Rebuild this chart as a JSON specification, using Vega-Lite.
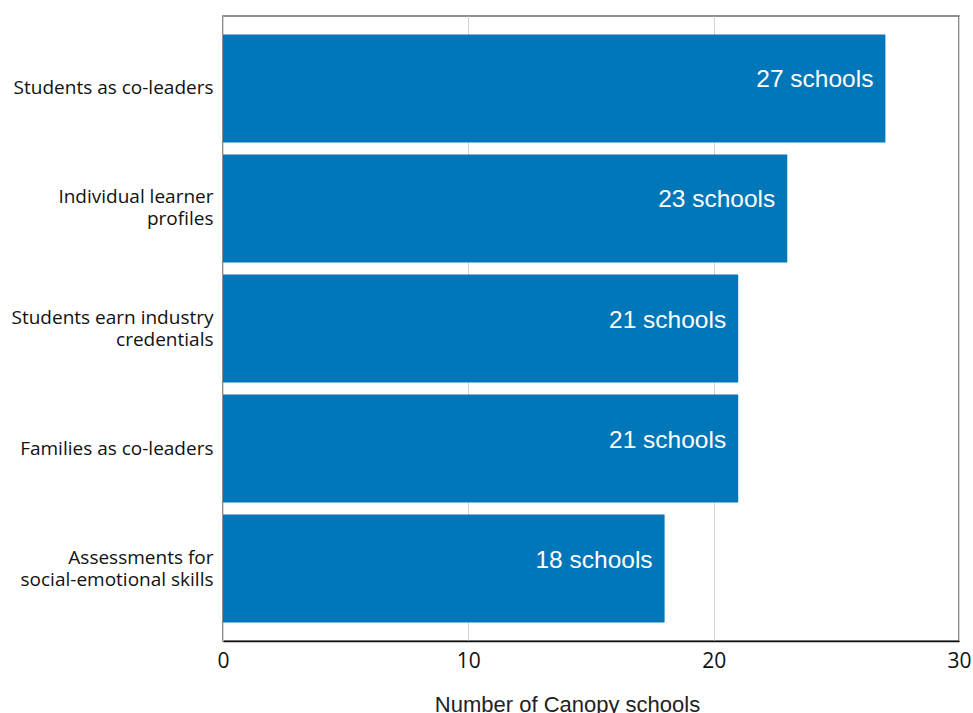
{
  "$schema": "https://vega.github.io/schema/vega-lite/v6.json",
  "width": 736,
  "height": 625,
  "autosize": {"type": "none"},
  "padding": {"left": 223, "top": 16, "right": 14, "bottom": 72},
  "background": "white",
  "config": {
    "view": {"stroke": "#6b6b6b", "strokeWidth": 1.5}
  },
  "data": {
    "values": [
      {"practice": "Students as co-leaders", "schools": 27, "text": "27 schools"},
      {"practice": "Individual learner|profiles", "schools": 23, "text": "23 schools"},
      {"practice": "Students earn industry|credentials", "schools": 21, "text": "21 schools"},
      {"practice": "Families as co-leaders", "schools": 21, "text": "21 schools"},
      {"practice": "Assessments for|social-emotional skills", "schools": 18, "text": "18 schools"}
    ]
  },
  "encoding": {
    "y": {
      "field": "practice",
      "type": "nominal",
      "sort": null,
      "scale": {"paddingInner": 0.1, "paddingOuter": 0.154},
      "axis": {
        "title": null,
        "ticks": false,
        "domain": false,
        "labelExpr": "split(datum.label, '|')",
        "labelFont": "Open Sans",
        "labelFontSize": 19,
        "labelColor": "#111111",
        "labelLineHeight": 22,
        "labelPadding": 10,
        "labelLimit": 300,
        "labelOffset": {"condition": {"test": "indexof(datum.value, '|') >= 0", "value": -11}, "value": 0}
      }
    },
    "x": {
      "field": "schools",
      "type": "quantitative",
      "scale": {"domain": [0, 30], "nice": false},
      "axis": {
        "values": [0, 10, 20, 30],
        "ticks": false,
        "grid": true,
        "gridColor": "#d4d4d4",
        "gridWidth": 1,
        "domainColor": "#111111",
        "domainWidth": 1.5,
        "labelFont": "Open Sans",
        "labelFontSize": 21,
        "labelFlush": false,
        "labelColor": "#111111",
        "labelPadding": 9,
        "title": "Number of Canopy schools",
        "titleFont": "Liberation Sans",
        "titleFontSize": 22,
        "titleFontWeight": "normal",
        "titleColor": "#222222",
        "titleX": 344,
        "titleY": 70,
        "titleAlign": "center",
        "titleBaseline": "alphabetic"
      }
    }
  },
  "layer": [
    {"mark": {"type": "bar", "color": "#0077B8"}},
    {
      "mark": {
        "type": "text",
        "align": "right",
        "baseline": "middle",
        "dx": -12,
        "dy": -8,
        "color": "white",
        "font": "Liberation Sans",
        "fontSize": 24.5
      },
      "encoding": {"text": {"field": "text"}}
    }
  ]
}
